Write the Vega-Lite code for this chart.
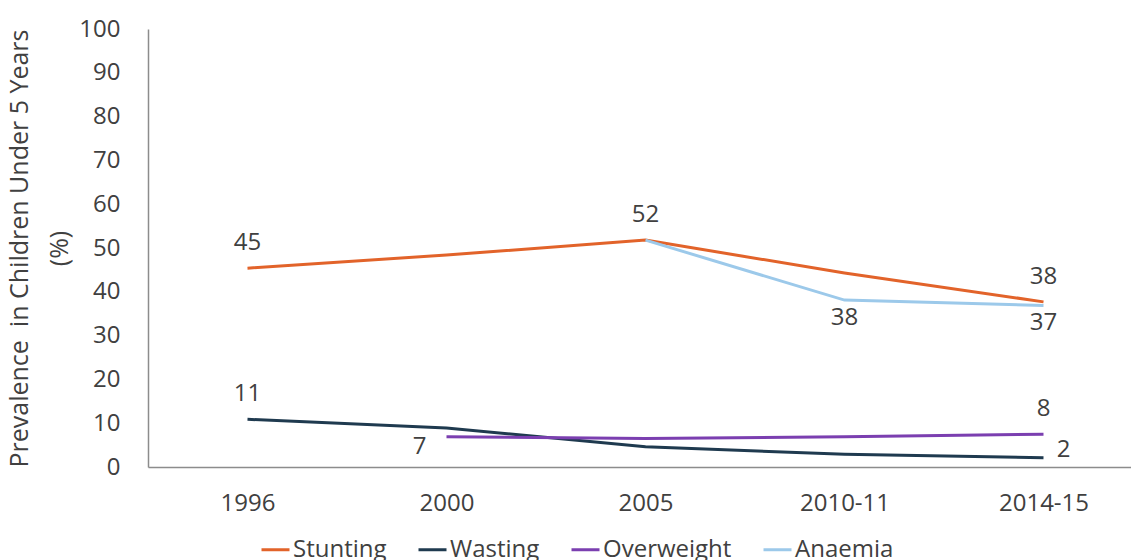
{
  "$schema": "https://vega.github.io/schema/vega-lite/v6.json",
  "autosize": {"type": "none"},
  "width": 995,
  "height": 438,
  "padding": {"left": 148, "top": 29, "right": 0, "bottom": 93},
  "background": "white",
  "config": {"font": "Open Sans", "view": {"stroke": null}},
  "data": {
    "values": [
      {"year": "1996", "series": "Stunting", "value": 45.4, "label": "45"},
      {"year": "2000", "series": "Stunting", "value": 48.4, "label": ""},
      {"year": "2005", "series": "Stunting", "value": 51.8, "label": "52"},
      {"year": "2010-11", "series": "Stunting", "value": 44.3, "label": ""},
      {"year": "2014-15", "series": "Stunting", "value": 37.7, "label": "38"},
      {"year": "1996", "series": "Wasting", "value": 10.9, "label": "11"},
      {"year": "2000", "series": "Wasting", "value": 8.9, "label": ""},
      {"year": "2005", "series": "Wasting", "value": 4.6, "label": ""},
      {"year": "2010-11", "series": "Wasting", "value": 2.9, "label": ""},
      {"year": "2014-15", "series": "Wasting", "value": 2.1, "label": "2"},
      {"year": "2000", "series": "Overweight", "value": 6.9, "label": "7"},
      {"year": "2005", "series": "Overweight", "value": 6.5, "label": ""},
      {"year": "2010-11", "series": "Overweight", "value": 6.9, "label": ""},
      {"year": "2014-15", "series": "Overweight", "value": 7.5, "label": "8"},
      {"year": "2005", "series": "Anaemia", "value": 51.8, "label": ""},
      {"year": "2010-11", "series": "Anaemia", "value": 38.1, "label": "38"},
      {"year": "2014-15", "series": "Anaemia", "value": 36.9, "label": "37"}
    ]
  },
  "encoding": {
    "x": {
      "field": "year",
      "type": "ordinal",
      "sort": ["1996", "2000", "2005", "2010-11", "2014-15"],
      "scale": {"type": "point", "padding": 0.5},
      "axis": {
        "title": null,
        "domainColor": "#8c8c8c",
        "domainWidth": 1.5,
        "ticks": false,
        "labelAngle": 0,
        "labelPadding": 24,
        "labelFontSize": 24,
        "labelColor": "#404040"
      }
    },
    "y": {
      "field": "value",
      "type": "quantitative",
      "scale": {"domain": [0, 100], "nice": false, "zero": true},
      "axis": {
        "values": [0, 10, 20, 30, 40, 50, 60, 70, 80, 90, 100],
        "grid": false,
        "ticks": false,
        "domainColor": "#8c8c8c",
        "domainWidth": 1.5,
        "labelPadding": 28,
        "labelFontSize": 24,
        "labelColor": "#404040",
        "title": ["Prevalence\u00a0 in Children Under 5 Years", "(%)"],
        "titleFontSize": 25,
        "titleFontWeight": "normal",
        "titleColor": "#404040",
        "titleLineHeight": 40,
        "titlePadding": 6
      }
    }
  },
  "layer": [
    {
      "mark": {"type": "line", "interpolate": "linear", "strokeWidth": 3},
      "encoding": {
        "color": {
          "field": "series",
          "type": "nominal",
          "scale": {
            "domain": ["Stunting", "Wasting", "Overweight", "Anaemia"],
            "range": ["#E2632A", "#1F3A4F", "#7B3FB0", "#9CC9EA"]
          },
          "legend": {
            "title": null,
            "orient": "none",
            "direction": "horizontal",
            "legendX": 112,
            "legendY": 505,
            "symbolType": "stroke",
            "symbolSize": 784,
            "symbolStrokeWidth": 3,
            "labelFontSize": 24,
            "labelColor": "#404040",
            "labelOffset": 2,
            "columnPadding": 25
          }
        }
      }
    },
    {
      "transform": [{"filter": "(datum.series == 'Stunting' && datum.label != '') || (datum.series == 'Wasting' && datum.year == '1996') || (datum.series == 'Overweight' && datum.year == '2014-15')"}],
      "mark": {"type": "text", "fontSize": 24, "color": "#404040", "baseline": "middle", "dy": -25},
      "encoding": {"text": {"field": "label"}}
    },
    {
      "transform": [{"filter": "datum.series == 'Anaemia' && datum.label != ''"}],
      "mark": {"type": "text", "fontSize": 24, "color": "#404040", "baseline": "middle", "dy": 18},
      "encoding": {"text": {"field": "label"}}
    },
    {
      "transform": [{"filter": "datum.series == 'Overweight' && datum.year == '2000'"}],
      "mark": {"type": "text", "fontSize": 24, "color": "#404040", "baseline": "middle", "dx": -27, "dy": 10},
      "encoding": {"text": {"field": "label"}}
    },
    {
      "transform": [{"filter": "datum.series == 'Wasting' && datum.year == '2014-15'"}],
      "mark": {"type": "text", "fontSize": 24, "color": "#404040", "baseline": "middle", "dx": 20, "dy": -8},
      "encoding": {"text": {"field": "label"}}
    }
  ]
}
